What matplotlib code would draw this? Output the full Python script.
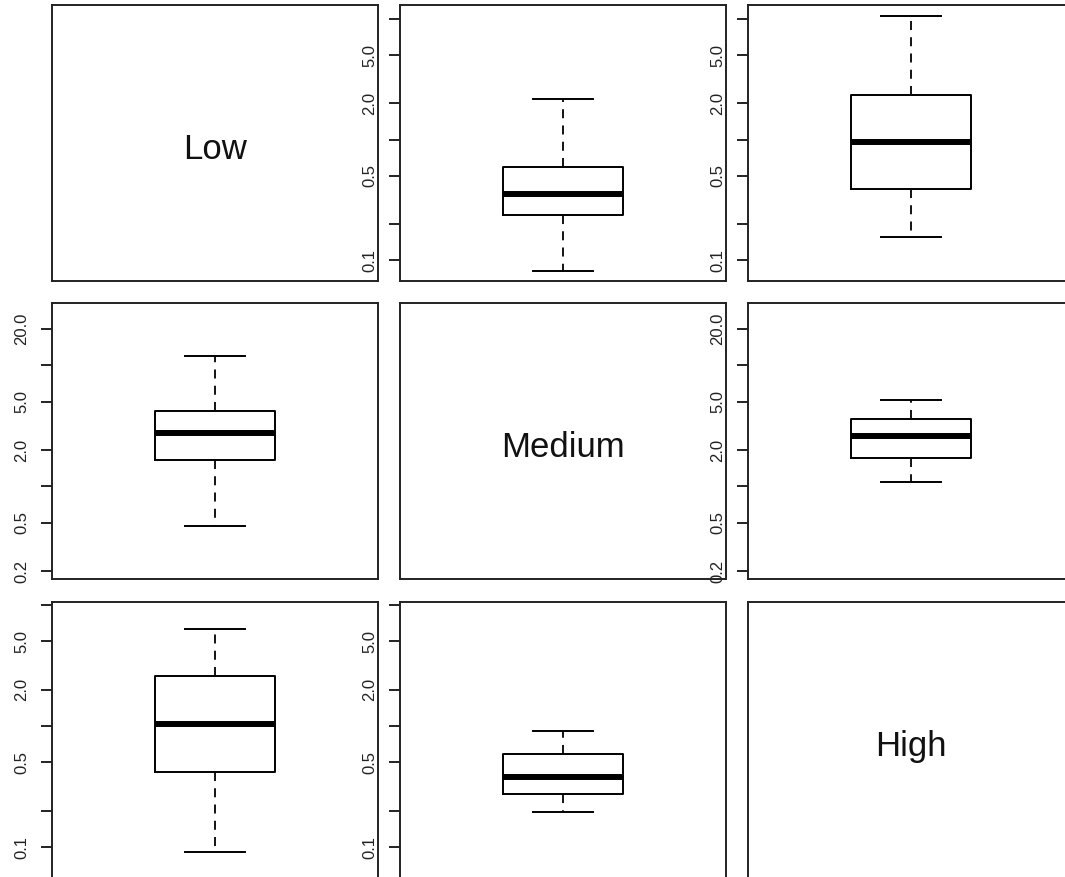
import matplotlib
matplotlib.use("Agg")
import matplotlib.pyplot as plt
from matplotlib.ticker import FixedFormatter, FixedLocator, NullLocator


# level names shown on the diagonal
LEVELS = ["Low", "Medium", "High"]

# off-diagonal panels: grid position and box statistics
PANEL_ROW = [0, 0, 1, 1, 2, 2]
PANEL_COL = [1, 2, 0, 2, 0, 1]
WHISKER_LOW = [0.081, 0.154, 0.471, 1.09, 0.0914, 0.194]
QUART_LOW = [0.236, 0.386, 1.65, 1.71, 0.419, 0.276]
MEDIAN = [0.351, 0.96, 2.78, 2.61, 1.04, 0.381]
QUART_HIGH = [0.587, 2.35, 4.20, 3.59, 2.57, 0.584]
WHISKER_HIGH = [2.16, 10.6, 11.96, 5.15, 6.34, 0.914]

# y range and tick marks per row (log axis)
ROW_YMIN = [0.067, 0.172, 0.0555]
ROW_YMAX = [13.07, 32.8, 10.6]
ROW_TICKS = [
    [0.1, 0.2, 0.5, 1, 2, 5, 10],
    [0.2, 0.5, 1, 2, 5, 10, 20],
    [0.1, 0.2, 0.5, 1, 2, 5, 10],
]
ROW_TICK_LABELS = [
    ["0.1", "", "0.5", "", "2.0", "5.0", ""],
    ["0.2", "0.5", "", "2.0", "5.0", "", "20.0"],
    ["0.1", "", "0.5", "", "2.0", "5.0", ""],
]

W, H = 1065, 877
COL_LEFT = [52, 400, 748]
ROW_TOP = [5, 303, 602]
PANEL_W, PANEL_H = 326, 276

plt.rcParams["font.family"] = ["Liberation Sans", "DejaVu Sans"]


def make_axes(fig, r, c):
    rect = [COL_LEFT[c] / W, 1 - (ROW_TOP[r] + PANEL_H) / H, PANEL_W / W, PANEL_H / H]
    ax = fig.add_axes(rect)
    for sp in ax.spines.values():
        sp.set_linewidth(1.4)
        sp.set_color("#222222")
    ax.set_xticks([])
    ax.set_xlim(0.46, 1.54)
    return ax


def draw_box(ax, i):
    stats = dict(
        whislo=WHISKER_LOW[i], q1=QUART_LOW[i], med=MEDIAN[i],
        q3=QUART_HIGH[i], whishi=WHISKER_HIGH[i], fliers=[],
    )
    ax.bxp(
        [stats], positions=[1], widths=0.4, capwidths=0.2, showfliers=False,
        boxprops=dict(color="black", linewidth=1.4),
        medianprops=dict(color="black", linewidth=4.3, solid_capstyle="butt"),
        whiskerprops=dict(color="black", linewidth=1.3, linestyle=(0, (5, 4))),
        capprops=dict(color="black", linewidth=1.4),
    )
    r = PANEL_ROW[i]
    ax.set_yscale("log")
    ax.set_ylim(ROW_YMIN[r], ROW_YMAX[r])
    ax.yaxis.set_major_locator(FixedLocator(ROW_TICKS[r]))
    ax.yaxis.set_major_formatter(FixedFormatter(ROW_TICK_LABELS[r]))
    ax.yaxis.set_minor_locator(NullLocator())
    ax.tick_params(axis="y", length=8, width=1.4, pad=8.5, labelsize=12,
                   labelrotation=90, colors="#222222")
    for lab in ax.get_yticklabels():
        lab.set_va("center")
    ax.set_xticks([])
    ax.set_xlim(0.46, 1.54)


fig = plt.figure(figsize=(W / 100, H / 100), dpi=100)

for k, name in enumerate(LEVELS):
    ax = make_axes(fig, k, k)
    ax.set_yticks([])
    ax.text(0.5, 0.49, name, transform=ax.transAxes, ha="center",
            va="center_baseline", fontsize=25, color="#111111")

for i in range(len(PANEL_ROW)):
    ax = make_axes(fig, PANEL_ROW[i], PANEL_COL[i])
    draw_box(ax, i)

fig.savefig("out.png", dpi=100)
